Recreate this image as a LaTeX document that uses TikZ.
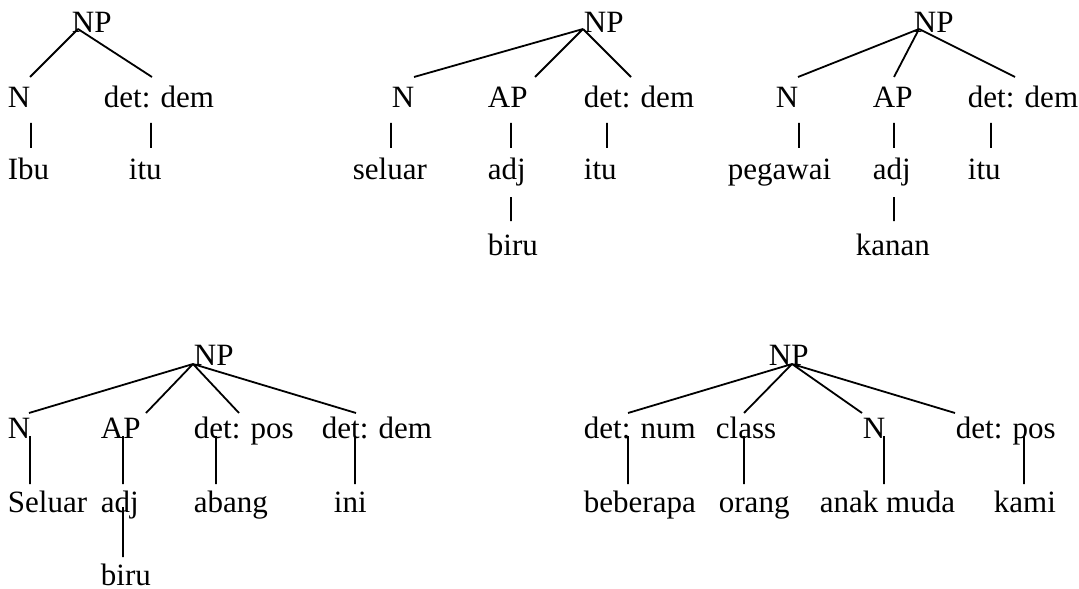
\documentclass[tikz,border=0pt]{standalone}
\usepackage{fontspec}
\setmainfont{Liberation Serif}
\begin{document}
\begin{tikzpicture}[x=0.5pt,y=-0.5pt,line width=0.9pt,
  every node/.style={anchor=base west,inner sep=0pt,font=\fontsize{15.5}{18}\selectfont}]
  \useasboundingbox (0,0) rectangle (1079,588);

  % tree 1: Ibu itu
  \node (np1)  at (71,33)   {NP};
  \node (n1)   at (7,108)   {N};
  \node (dem1) at (103,108) {det: dem};
  \node (ibu)  at (7,180)   {Ibu};
  \node (itu1) at (128,180) {itu};
  \coordinate (np1x) at (78,29);
  \coordinate (n1u) at (30,77);    \coordinate (dem1u) at (152,77);
  \coordinate (n1d) at (31,123);   \coordinate (ibuu) at (31,148);
  \coordinate (dem1d) at (151,123); \coordinate (itu1u) at (151,148);
  \draw (np1x) -- (n1u) (np1x) -- (dem1u)
        (n1d) -- (ibuu) (dem1d) -- (itu1u);

  % tree 2: seluar biru itu
  \node (np2)  at (583,33)  {NP};
  \node (n2)   at (391,108) {N};
  \node (ap2)  at (487,108) {AP};
  \node (dem2) at (583,108) {det: dem};
  \node (seluar) at (352,180) {seluar};
  \node (adj2) at (487,180) {adj};
  \node (itu2) at (583,180) {itu};
  \node (biru2) at (487,255) {biru};
  \coordinate (np2x) at (583,29);
  \coordinate (n2u) at (414,77);  \coordinate (ap2u) at (535,77);  \coordinate (dem2u) at (631,77);
  \coordinate (n2d) at (391,123); \coordinate (seluaru) at (391,148);
  \coordinate (ap2d) at (511,123); \coordinate (adj2u) at (511,148);
  \coordinate (dem2d) at (607,123); \coordinate (itu2u) at (607,148);
  \coordinate (adj2d) at (511,197); \coordinate (biru2u) at (511,221);
  \draw (np2x) -- (n2u) (np2x) -- (ap2u) (np2x) -- (dem2u)
        (n2d) -- (seluaru) (ap2d) -- (adj2u) (dem2d) -- (itu2u)
        (adj2d) -- (biru2u);

  % tree 3: pegawai kanan itu
  \node (np3)  at (913,33)  {NP};
  \node (n3)   at (775,108) {N};
  \node (ap3)  at (872,108) {AP};
  \node (dem3) at (967,108) {det: dem};
  \node (pegawai) at (727,180) {pegawai};
  \node (adj3) at (872,180) {adj};
  \node (itu3) at (967,180) {itu};
  \node (kanan) at (855,255) {kanan};
  \coordinate (np3x) at (919,29);
  \coordinate (n3u) at (798,77);  \coordinate (ap3u) at (894,77);  \coordinate (dem3u) at (1015,77);
  \coordinate (n3d) at (799,123); \coordinate (pegawaiu) at (799,148);
  \coordinate (ap3d) at (894,123); \coordinate (adj3u) at (894,148);
  \coordinate (dem3d) at (991,123); \coordinate (itu3u) at (991,148);
  \coordinate (adj3d) at (894,197); \coordinate (kananu) at (894,221);
  \draw (np3x) -- (n3u) (np3x) -- (ap3u) (np3x) -- (dem3u)
        (n3d) -- (pegawaiu) (ap3d) -- (adj3u) (dem3d) -- (itu3u)
        (adj3d) -- (kananu);

  % tree 4: Seluar biru abang ini
  \node (np4)  at (193,365) {NP};
  \node (n4)   at (7,438)   {N};
  \node (ap4)  at (100,438) {AP};
  \node (pos4) at (193,438) {det: pos};
  \node (dem4) at (321,438) {det: dem};
  \node (Seluar) at (7,512) {Seluar};
  \node (adj4) at (100,512) {adj};
  \node (abang) at (193,512) {abang};
  \node (ini)  at (333,512) {ini};
  \node (biru4) at (100,585) {biru};
  \coordinate (np4x) at (193,364);
  \coordinate (n4u) at (29,413);  \coordinate (ap4u) at (146,413);
  \coordinate (pos4u) at (239,413); \coordinate (dem4u) at (356,413);
  \coordinate (n4d) at (30,436);  \coordinate (Seluaru) at (30,484);
  \coordinate (ap4d) at (123,436); \coordinate (adj4u) at (123,484);
  \coordinate (pos4d) at (216,436); \coordinate (abangu) at (216,484);
  \coordinate (dem4d) at (355,436); \coordinate (iniu) at (355,484);
  \coordinate (adj4d) at (123,507); \coordinate (biru4u) at (123,557);
  \draw (np4x) -- (n4u) (np4x) -- (ap4u) (np4x) -- (pos4u) (np4x) -- (dem4u)
        (n4d) -- (Seluaru) (ap4d) -- (adj4u) (pos4d) -- (abangu) (dem4d) -- (iniu)
        (adj4d) -- (biru4u);

  % tree 5: beberapa orang anak muda kami
  \node (np5)  at (768,365) {NP};
  \node (num5) at (583,438) {det: num};
  \node (cls5) at (715,438) {class};
  \node (n5)   at (862,438) {N};
  \node (pos5) at (955,438) {det: pos};
  \node (beberapa) at (583,512) {beberapa};
  \node (orang) at (718,512) {orang};
  \node (anak) at (819,512) {anak muda};
  \node (kami) at (993,512) {kami};
  \coordinate (np5x) at (792,364);
  \coordinate (num5u) at (628,413); \coordinate (cls5u) at (744,413);
  \coordinate (n5u) at (862,413);   \coordinate (pos5u) at (955,413);
  \coordinate (num5d) at (628,436); \coordinate (beberapau) at (628,484);
  \coordinate (cls5d) at (744,436); \coordinate (orangu) at (744,484);
  \coordinate (n5d) at (884,436);   \coordinate (anaku) at (884,484);
  \coordinate (pos5d) at (1024,436); \coordinate (kamiu) at (1024,484);
  \draw (np5x) -- (num5u) (np5x) -- (cls5u) (np5x) -- (n5u) (np5x) -- (pos5u)
        (num5d) -- (beberapau) (cls5d) -- (orangu) (n5d) -- (anaku) (pos5d) -- (kamiu);
\end{tikzpicture}
\end{document}
